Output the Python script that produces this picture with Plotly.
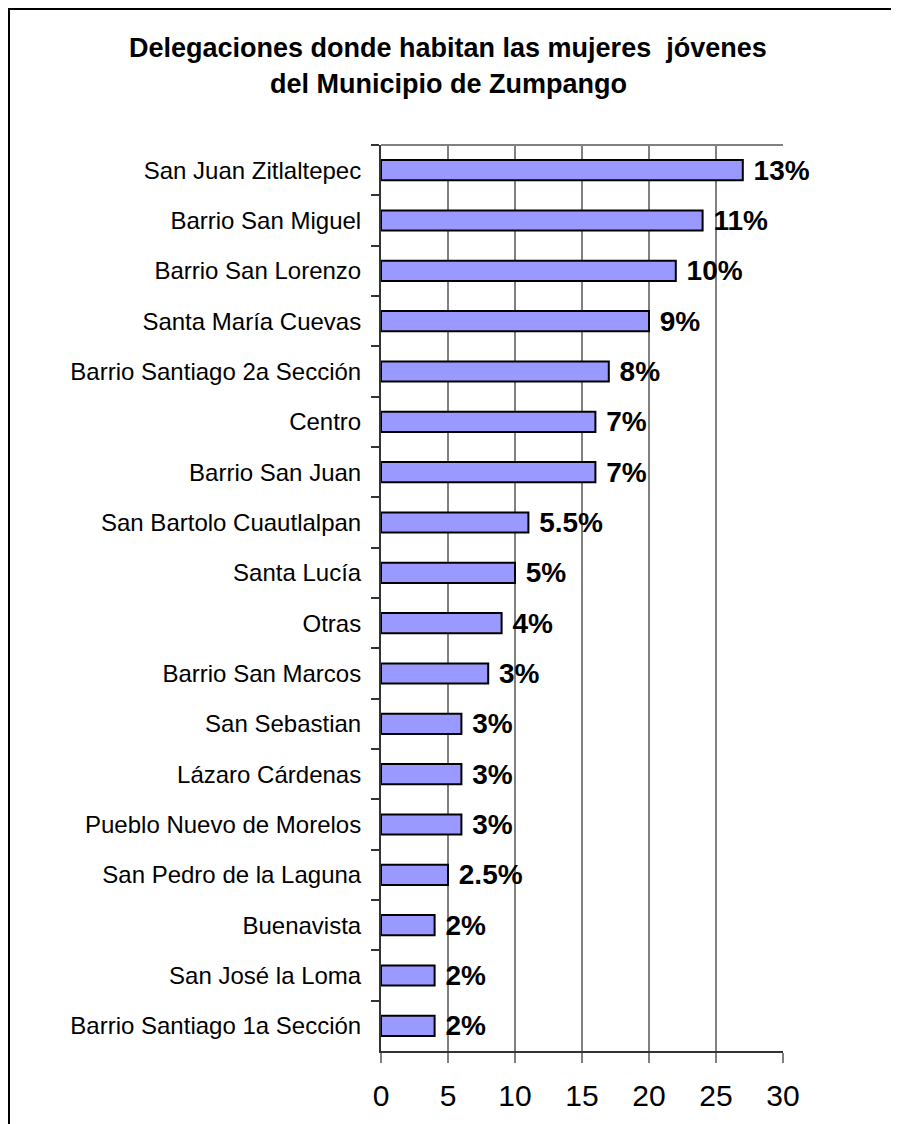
import plotly.graph_objects as go

categories = [
    "San Juan Zitlaltepec", "Barrio San Miguel", "Barrio San Lorenzo",
    "Santa María Cuevas", "Barrio Santiago 2a Sección", "Centro",
    "Barrio San Juan", "San Bartolo Cuautlalpan", "Santa Lucía", "Otras",
    "Barrio San Marcos", "San Sebastian", "Lázaro Cárdenas",
    "Pueblo Nuevo de Morelos", "San Pedro de la Laguna", "Buenavista",
    "San José la Loma", "Barrio Santiago 1a Sección",
]
values = [27, 24, 22, 20, 17, 16, 16, 11, 10, 9, 8, 6, 6, 6, 5, 4, 4, 4]
labels = ["13%", "11%", "10%", "9%", "8%", "7%", "7%", "5.5%", "5%", "4%",
          "3%", "3%", "3%", "3%", "2.5%", "2%", "2%", "2%"]
x_ticks = [0, 5, 10, 15, 20, 25, 30]
title_lines = ["Delegaciones donde habitan las mujeres  jóvenes",
               "del Municipio de Zumpango"]

FONT = "Liberation Sans, Arial, sans-serif"
OFF = 8  # page body margin
W, H = 899 - OFF, 1124 - OFF
L, R, T, B = 381 - OFF, 783 - OFF, 145 - OFF, 1051 - OFF

def px_x(p):
    return (p - L) / (R - L)

def px_y(p):
    return (B - p) / (B - T)

fig = go.Figure(go.Bar(
    x=values, y=categories, orientation="h",
    marker=dict(color="#9999FF", line=dict(color="black", width=2)),
    text=labels, texttemplate=" %{text}", textposition="outside",
    constraintext="none",
    textfont=dict(family=FONT, size=28, color="black", weight="bold"),
    cliponaxis=False,
))

fig.update_layout(
    width=W, height=H,
    margin=dict(l=L, r=W - R, t=T, b=H - B, pad=0),
    plot_bgcolor="white", paper_bgcolor="white",
    bargap=0.6, showlegend=False,
    font=dict(family=FONT, color="black"),
    xaxis=dict(
        range=[0, 30], tickvals=x_ticks, ticktext=[str(v) for v in x_ticks],
        showgrid=True, gridcolor="#808080", gridwidth=2,
        showline=True, linecolor="#333333", linewidth=2,
        ticks="outside", ticklen=10, tickwidth=2, tickcolor="#808080",
        tickfont=dict(size=30, family=FONT, color="black"),
        ticklabelstandoff=7,
        zeroline=False, fixedrange=True,
    ),
    yaxis=dict(
        autorange="reversed", type="category",
        showgrid=False, showline=True, linecolor="#333333", linewidth=2,
        ticks="outside", ticklen=8, tickwidth=2, tickcolor="#333333",
        tickson="boundaries",
        tickfont=dict(size=24, family=FONT, color="black"),
        ticklabelstandoff=13,
    ),
    shapes=[
        dict(type="line", xref="paper", yref="paper", x0=0, x1=1, y0=1, y1=1,
             line=dict(color="#808080", width=2)),
        dict(type="path", xref="paper", yref="paper",
             path=f"M {px_x(1)},{px_y(H + 5)} L {px_x(1)},{px_y(1)} L {px_x(W + 5)},{px_y(1)}",
             line=dict(color="black", width=2)),
    ],
    annotations=[
        dict(text=f"<b>{title_lines[0]}</b>", xref="paper", yref="paper",
             x=px_x(448 - OFF), y=px_y(48 - OFF), xanchor="center", yanchor="middle",
             showarrow=False, font=dict(size=27, family=FONT, color="black")),
        dict(text=f"<b>{title_lines[1]}</b>", xref="paper", yref="paper",
             x=px_x(448 - OFF), y=px_y(84 - OFF), xanchor="center", yanchor="middle",
             showarrow=False, font=dict(size=27, family=FONT, color="black")),
    ],
)

fig.write_html("out.html")
